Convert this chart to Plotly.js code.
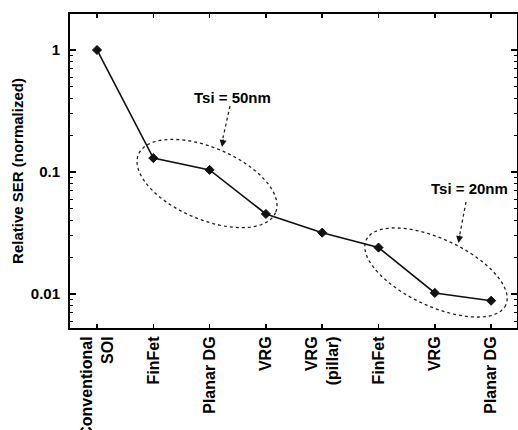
<!DOCTYPE html>
<html><head><meta charset="utf-8">
<script src="https://cdn.plot.ly/plotly-3.0.1.min.js"></script>
<style>html,body{margin:0;padding:0;background:#fff}</style>
</head><body><div id="chart" style="width:518px;height:430px"></div>
<script>
const categories = ['Conventional<br>SOI','FinFet','Planar DG','VRG','VRG<br>(pillar)','FinFet','VRG','Planar DG'];
const relativeSER = [1, 0.130, 0.104, 0.0453, 0.0318, 0.0240, 0.0102, 0.0088];
const yTickValues = [0.01, 0.1, 1];
const yTickLabels = ['0.01', '0.1', '1'];
const groupLabels = ['Tsi = 50nm', 'Tsi = 20nm'];

const W = 518, H = 430, M = {l: 70, r: 1, t: 14, b: 102};
const PW = W - M.l - M.r, PH = H - M.t - M.b;
function px(x) { return (x - M.l) / PW; }
function py(y) { return 1 - (y - M.t) / PH; }
function ellipsePath(cx, cy, a, b, deg) {
  const th = deg * Math.PI / 180, n = 90;
  let d = '';
  for (let i = 0; i <= n; i++) {
    const t = 2 * Math.PI * i / n;
    const x = cx + a * Math.cos(t) * Math.cos(th) - b * Math.sin(t) * Math.sin(th);
    const y = cy + a * Math.cos(t) * Math.sin(th) + b * Math.sin(t) * Math.cos(th);
    d += (i === 0 ? 'M' : 'L') + px(x).toFixed(4) + ',' + py(y).toFixed(4);
  }
  return d + 'Z';
}
const xIdx = categories.map((c, i) => i);

const trace = {
  x: xIdx, y: relativeSER, type: 'scatter', mode: 'lines+markers',
  line: {color: '#111', width: 1.6},
  marker: {symbol: 'diamond', size: 7, color: '#111', line: {color: '#111', width: 1}},
  showlegend: false, hoverinfo: 'skip'
};

const dot = {color: '#222', width: 1.3, dash: 'dot'};
const layout = {
  width: W, height: H, margin: M,
  paper_bgcolor: '#fff', plot_bgcolor: '#fff',
  font: {family: 'Liberation Sans, Arial, sans-serif', color: '#000', weight: 'bold'},
  xaxis: {
    range: [-0.48, 7.46], tickmode: 'array', tickvals: xIdx, ticktext: categories,
    tickangle: -90, ticks: 'inside', ticklen: 4, tickwidth: 1.5, tickcolor: '#000',
    showline: true, linewidth: 2, linecolor: '#000', mirror: 'ticks',
    showgrid: false, zeroline: false, tickfont: {size: 16}
  },
  yaxis: {
    type: 'log', range: [-2.279, 0.295], tickmode: 'array', tickvals: yTickValues, ticktext: yTickLabels,
    ticks: 'inside', ticklen: 6, tickwidth: 1.5, tickcolor: '#000',
    minor: {ticks: 'inside', ticklen: 3, tickwidth: 1, tickcolor: '#000', dtick: 'D1', showgrid: false},
    showline: true, linewidth: 2, linecolor: '#000', mirror: 'ticks',
    showgrid: false, zeroline: false, tickfont: {size: 15}, ticklabelstandoff: 5,
    title: {text: 'Relative SER (normalized)', font: {size: 15}, standoff: 4}
  },
  shapes: [
    {type: 'path', xref: 'paper', yref: 'paper', path: ellipsePath(207, 183.5, 74.5, 36, 23), line: dot},
    {type: 'path', xref: 'paper', yref: 'paper', path: ellipsePath(436, 272.5, 77, 33.6, 25), line: dot},
    {type: 'line', xref: 'paper', yref: 'paper', x0: px(230), y0: py(106), x1: px(222.5), y1: py(140), line: dot},
    {type: 'line', xref: 'paper', yref: 'paper', x0: px(466), y0: py(202), x1: px(459.5), y1: py(236), line: dot}
  ],
  annotations: [
    {xref: 'paper', yref: 'paper', x: px(232), y: py(97), text: groupLabels[0], showarrow: false,
     xanchor: 'center', yanchor: 'middle', font: {size: 15}},
    {xref: 'paper', yref: 'paper', x: px(469), y: py(188), text: groupLabels[1], showarrow: false,
     xanchor: 'center', yanchor: 'middle', font: {size: 15}},
    {xref: 'paper', yref: 'paper', x: px(222), y: py(147), text: '', showarrow: true,
     ax: 1.5, ay: -9, arrowhead: 2, arrowsize: 1, arrowwidth: 1.4, arrowcolor: '#111', standoff: 0},
    {xref: 'paper', yref: 'paper', x: px(458.5), y: py(243), text: '', showarrow: true,
     ax: 1.5, ay: -9, arrowhead: 2, arrowsize: 1, arrowwidth: 1.4, arrowcolor: '#111', standoff: 0}
  ]
};

Plotly.newPlot('chart', [trace], layout, {staticPlot: true, displayModeBar: false});
</script>
</body></html>
